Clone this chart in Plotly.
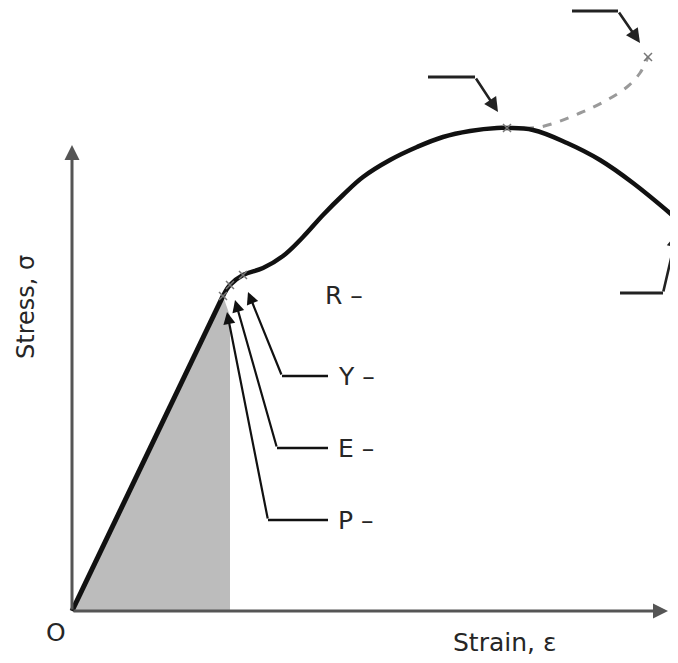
import plotly.graph_objects as go

# engineering stress-strain curve (arbitrary units)
elastic_strain = [0.0, 1.51]
elastic_stress = [0.0, 3.15]

plastic_strain = [1.51, 1.58, 1.71, 1.91, 2.11, 2.31, 2.51, 2.71, 2.91, 3.18,
                  3.45, 3.71, 3.98, 4.25, 4.35, 4.61, 4.95, 5.28, 5.61, 6.06]
plastic_stress = [3.15, 3.26, 3.36, 3.43, 3.55, 3.74, 3.96, 4.16, 4.34, 4.51,
                  4.64, 4.74, 4.80, 4.83, 4.83, 4.81, 4.68, 4.51, 4.28, 3.91]

# true stress branch (dashed)
true_strain = [4.35, 4.68, 5.08, 5.35, 5.55, 5.68, 5.76]
true_stress = [4.83, 4.84, 4.98, 5.11, 5.24, 5.38, 5.54]

# marked points: P, E, Y, ultimate, true fracture
mark_strain = [1.51, 1.58, 1.71, 4.35, 5.76]
mark_stress = [3.15, 3.26, 3.36, 4.83, 5.54]

# shaded elastic-energy region
shade_strain = [0.0, 1.51, 1.58, 1.58, 0.0]
shade_stress = [0.0, 3.15, 2.95, 0.0, 0.0]

point_labels = ["P –", "E –", "Y –"]

FONT = "DejaVu Sans"
INK = "#111111"
AXIS = "#555555"
TXT = "#262626"

fig = go.Figure()

fig.add_trace(go.Scatter(
    x=shade_strain, y=shade_stress, mode="lines", fill="toself",
    fillcolor="#bcbcbc", line=dict(width=0), hoverinfo="skip",
))
fig.add_trace(go.Scatter(
    x=true_strain, y=true_stress, mode="lines",
    line=dict(color="#9a9a9a", width=3, dash="dash", shape="spline"),
))
fig.add_trace(go.Scatter(
    x=elastic_strain, y=elastic_stress, mode="lines",
    line=dict(color=INK, width=5),
))
fig.add_trace(go.Scatter(
    x=plastic_strain, y=plastic_stress, mode="lines",
    line=dict(color=INK, width=4.5, shape="spline", smoothing=1.1),
))
fig.add_trace(go.Scatter(
    x=mark_strain, y=mark_stress, mode="markers",
    marker=dict(symbol="x-thin", size=8, line=dict(width=1.5, color="#777777")),
))

annotations = []
shapes = []

# axes drawn as arrows from the origin
annotations.append(dict(x=0, y=4.66, ax=0, ay=0, xref="x", yref="y",
                        axref="x", ayref="y", text="", showarrow=True,
                        arrowhead=2, arrowsize=1, arrowwidth=3, arrowcolor=AXIS))
annotations.append(dict(x=5.96, y=0, ax=0, ay=0, xref="x", yref="y",
                        axref="x", ayref="y", text="", showarrow=True,
                        arrowhead=2, arrowsize=1, arrowwidth=3, arrowcolor=AXIS))

# leader lines: (elbow x, elbow y, horizontal end x, tip x, tip y)
leaders = [
    (1.96, 0.91, 2.56, 1.55, 2.99),
    (2.05, 1.63, 2.56, 1.63, 3.11),
    (2.10, 2.35, 2.56, 1.76, 3.19),
]
for (ex, ey, hx, tx, ty), lab in zip(leaders, point_labels):
    shapes.append(dict(type="line", x0=ex, y0=ey, x1=hx, y1=ey, xref="x", yref="y",
                       line=dict(color=INK, width=2.5)))
    annotations.append(dict(x=tx, y=ty, ax=ex, ay=ey, xref="x", yref="y",
                            axref="x", ayref="y", text="", showarrow=True,
                            arrowhead=2, arrowsize=1.1, arrowwidth=2.2, arrowcolor=INK))
    annotations.append(dict(x=2.64, y=ey, xref="x", yref="y", text=lab,
                            showarrow=False, xanchor="left",
                            font=dict(family=FONT, size=25, color=TXT)))

annotations.append(dict(x=2.51, y=3.16, xref="x", yref="y", text="R –",
                        showarrow=False, xanchor="left",
                        font=dict(family=FONT, size=25, color=TXT)))

# unlabelled leaders on the right side: (start x, y, elbow x, tip x, tip y)
right_leaders = [
    (3.56, 5.34, 4.03, 4.26, 4.99),
    (5.00, 6.00, 5.46, 5.68, 5.68),
    (5.48, 3.18, 5.91, 6.05, 3.78),
]
for sx, sy, ex, tx, ty in right_leaders:
    shapes.append(dict(type="line", x0=sx, y0=sy, x1=ex, y1=sy, xref="x", yref="y",
                       line=dict(color="#222222", width=3)))
    annotations.append(dict(x=tx, y=ty, ax=ex, ay=sy, xref="x", yref="y",
                            axref="x", ayref="y", text="", showarrow=True,
                            arrowhead=2, arrowsize=1.1, arrowwidth=2.6,
                            arrowcolor="#222222"))

annotations.append(dict(x=-0.46, y=3.04, xref="x", yref="y", text="Stress, σ",
                        textangle=-90, showarrow=False,
                        font=dict(family=FONT, size=24, color=TXT)))
annotations.append(dict(x=4.32, y=-0.31, xref="x", yref="y", text="Strain, ε",
                        showarrow=False,
                        font=dict(family=FONT, size=25, color=TXT)))
annotations.append(dict(x=-0.16, y=-0.21, xref="x", yref="y", text="O",
                        showarrow=False,
                        font=dict(family=FONT, size=25, color=TXT)))

# page body adds an 8px margin, so the figure is 8px smaller than the window
fig.update_layout(
    width=670, height=655,
    margin=dict(l=0, r=0, t=0, b=0),
    paper_bgcolor="white", plot_bgcolor="white",
    showlegend=False,
    xaxis=dict(range=[-0.64, 6.06], visible=False, fixedrange=True),
    yaxis=dict(range=[-0.52, 6.03], visible=False, fixedrange=True),
    annotations=annotations,
    shapes=shapes,
)

fig.write_html("out.html")
